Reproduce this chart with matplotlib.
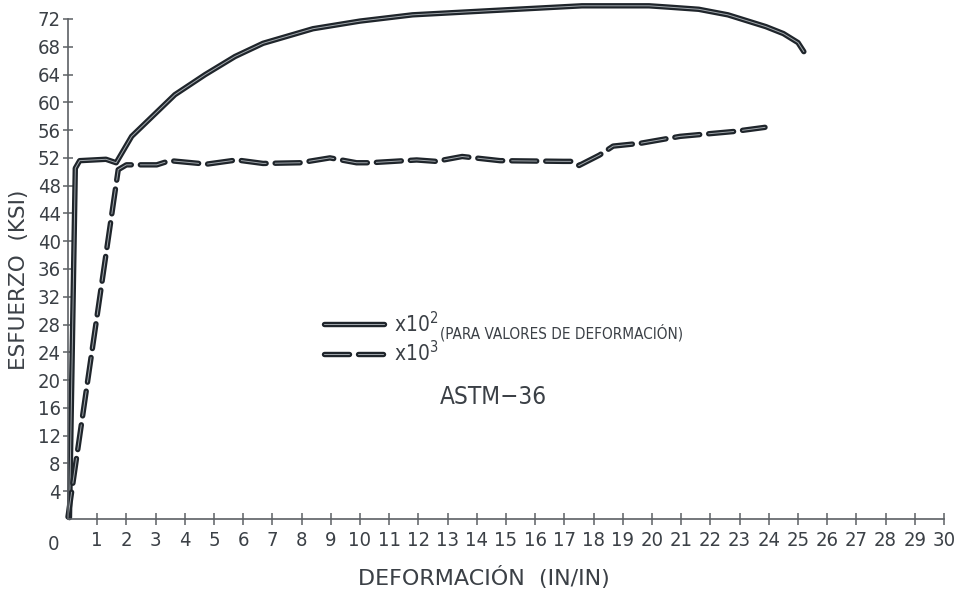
import matplotlib
matplotlib.use("Agg")
import matplotlib.pyplot as plt
import matplotlib.patheffects as pe

# curva esfuerzo-deformacion ASTM A36, leida del grafico original
# deformacion x10^2 (linea continua)
def_x100 = [0.05, 0.25, 0.4, 1.3, 1.65, 2.18, 3.66, 4.7, 5.72, 6.68, 8.39, 10.0,
            11.8, 14.9, 17.6, 19.9, 20.6, 21.6, 22.6, 23.9, 24.5, 25.0, 25.2]
esf_x100 = [0.2, 50.5, 51.6, 51.8, 51.3, 55.1, 61.1, 64.0, 66.6, 68.5, 70.6, 71.7,
            72.6, 73.3, 73.9, 73.9, 73.7, 73.4, 72.6, 70.9, 69.9, 68.6, 67.3]

# deformacion x10^3 (linea discontinua)
def_x1000 = [0.0, 1.72, 2.0, 3.04, 3.49, 4.75, 5.78, 6.68, 7.95, 8.97, 9.88, 10.34,
             11.94, 12.6, 13.5, 14.8, 16.96, 17.25, 17.5, 18.2, 18.67, 19.6, 20.96,
             22.8, 23.87]
esf_x1000 = [0.3, 50.3, 51.0, 51.0, 51.6, 51.1, 51.7, 51.2, 51.3, 52.0, 51.3, 51.3,
             51.7, 51.5, 52.2, 51.6, 51.5, 51.5, 50.9, 52.4, 53.7, 54.1, 55.1,
             55.8, 56.4]

xticks = list(range(1, 31))
yticks = list(range(4, 73, 4))

plt.rcParams['font.family'] = ['DejaVu Sans']
plt.rcParams['font.stretch'] = 'condensed'
plt.rcParams['mathtext.fontset'] = 'custom'
plt.rcParams['mathtext.rm'] = 'DejaVu Sans:stretch=condensed'
plt.rcParams['mathtext.it'] = 'DejaVu Sans:stretch=condensed'
plt.rcParams['lines.scale_dashes'] = False

ink = '#1f252b'
txt = '#3b4046'
axis_c = '#5c6065'

fig = plt.figure(figsize=(9.57, 5.92), dpi=100)
ax = fig.add_axes([68 / 957, 73 / 592, 876 / 957, 500 / 592])

# linea "doble" estilo CAD: trazo grueso oscuro con un hilo claro al centro
double = [pe.Stroke(linewidth=3.9, foreground=ink, capstyle='round', joinstyle='round'),
          pe.Normal()]

ax.plot(def_x100, esf_x100, color='#a3a9ae', lw=0.7, clip_on=False,
        solid_capstyle='round', path_effects=double, label=r'x10$^{2}$')
ax.plot(def_x1000, esf_x1000, color='#a3a9ae', lw=0.7, clip_on=False,
        dashes=(18, 6.5), dash_capstyle='round', path_effects=double, label=r'x10$^{3}$')

ax.set_xlim(0, 30)
ax.set_ylim(0, 72)
for s in ['top', 'right']:
    ax.spines[s].set_visible(False)
for s in ['left', 'bottom']:
    ax.spines[s].set_color(axis_c)
    ax.spines[s].set_linewidth(1.2)

ax.set_xticks(xticks)
ax.set_xticklabels([str(v) for v in xticks])
ax.set_yticks(yticks)
ax.set_yticklabels([str(v) for v in yticks])
ax.tick_params(axis='x', direction='inout', length=9, width=1.1, color=axis_c,
               labelsize=14.5, labelcolor=txt, pad=4)
ax.tick_params(axis='y', direction='inout', length=6.5, width=1.1, color=axis_c,
               labelsize=14.5, labelcolor=txt, pad=2)
ax.text(-0.5, -0.033, '0', transform=ax.get_xaxis_transform(), ha='center', va='top',
        fontsize=14.5, color=txt)

ax.set_xlabel('DEFORMACIÓN  (IN/IN)', fontsize=16, fontstretch='normal', color=txt)
ax.xaxis.set_label_coords(0.475, -0.094)
ax.set_ylabel('ESFUERZO  (KSI)', fontsize=15.5, fontstretch='normal', color=txt)
ax.yaxis.set_label_coords(-0.045, 0.478)

leg = ax.legend(loc='center left', bbox_to_anchor=(0.292, 0.362), frameon=False,
                fontsize=15, handlelength=2.9, handletextpad=0.45, labelspacing=0.22,
                borderpad=0, borderaxespad=0)
for t in leg.get_texts():
    t.set_color(txt)

ax.text(0.425, 0.372, '(PARA VALORES DE DEFORMACIÓN)', transform=ax.transAxes,
        fontsize=11, color=txt, va='center', ha='left')
ax.text(0.425, 0.245, 'ASTM−36', transform=ax.transAxes,
        fontsize=17.5, color=txt, va='center', ha='left')

fig.savefig('out.png', dpi=100)
